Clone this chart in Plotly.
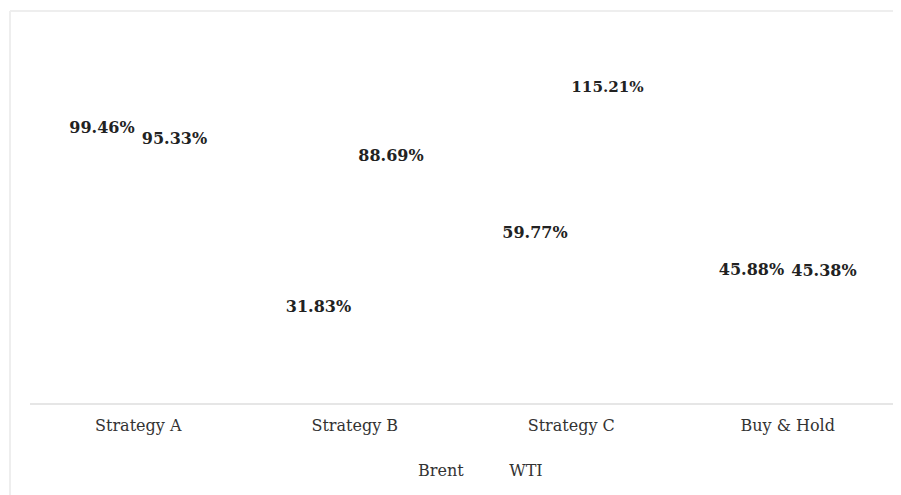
import plotly.graph_objects as go

categories = ["Strategy A", "Strategy B", "Strategy C", "Buy & Hold"]
brent = [99.46, 31.83, 59.77, 45.88]
wti = [95.33, 88.69, 115.21, 45.38]
series_names = ["Brent", "WTI"]

# page has an 8px body margin; figure sized to fill the visible window
OFF = 8
W, H = 901 - OFF, 495 - OFF
L, R, T, B = 30 - OFF, 5, 1, 92
pw, ph = W - L - R, H - T - B

def px_x(x):
    # x given in page pixels
    return (x - OFF - L) / pw

def px_y(y):
    return (H - B - (y - OFF)) / ph

fig = go.Figure()
for name, vals in zip(series_names, [brent, wti]):
    fig.add_trace(go.Bar(
        name=name,
        x=categories,
        y=vals,
        text=[f"{v:.2f}%" for v in vals],
        textposition="outside",
        cliponaxis=False,
        textfont=dict(family="DejaVu Serif", size=16, color="#222222", weight="bold"),
        marker=dict(color="rgba(0,0,0,0)", line=dict(width=0)),
    ))

fig.update_layout(
    width=W, height=H,
    margin=dict(l=L, r=R, t=T, b=B),
    paper_bgcolor="white",
    plot_bgcolor="white",
    barmode="group",
    bargap=0.33,
    bargroupgap=0,
    font=dict(family="DejaVu Serif", size=16, color="#333333"),
    xaxis=dict(
        showline=True, linecolor="#e6e6e6", linewidth=2,
        showgrid=False, ticks="", zeroline=False,
        ticklabelstandoff=7,
        tickfont=dict(family="DejaVu Serif", size=16, color="#333333"),
    ),
    yaxis=dict(range=[0, 149], visible=False, showgrid=False, zeroline=False),
    legend=dict(
        orientation="h", x=0.5, xanchor="center", y=px_y(470), yanchor="middle",
        font=dict(family="DejaVu Serif", size=16, color="#333333"),
        itemwidth=30, bgcolor="rgba(0,0,0,0)",
    ),
    shapes=[
        dict(type="line", xref="paper", yref="paper",
             x0=px_x(10), x1=px_x(910), y0=px_y(11), y1=px_y(11),
             line=dict(color="#eeeeee", width=2)),
        dict(type="line", xref="paper", yref="paper",
             x0=px_x(10), x1=px_x(10), y0=px_y(11), y1=px_y(500),
             line=dict(color="#eeeeee", width=2)),
    ],
)

fig.write_html("out.html")
